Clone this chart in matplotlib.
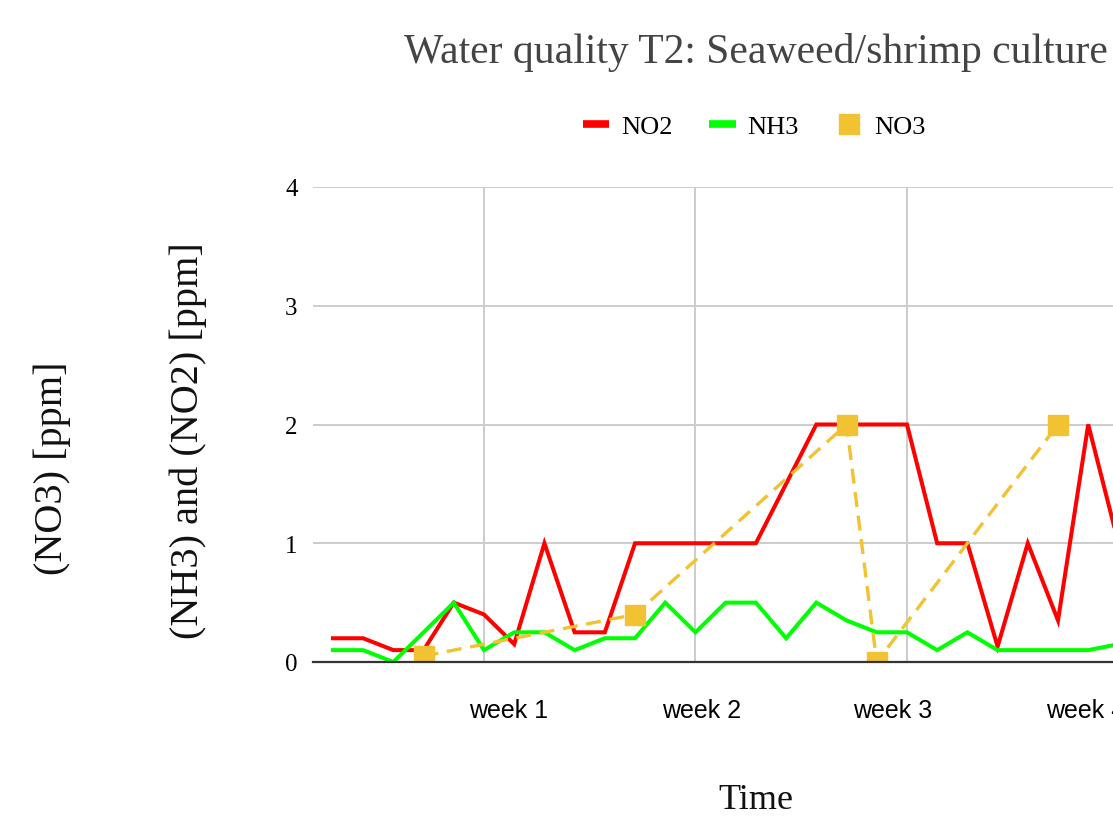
import matplotlib
matplotlib.use("Agg")
import matplotlib.pyplot as plt
from matplotlib.lines import Line2D
import numpy as np

# daily readings (index = day), last point lies just past the visible edge
no2 = [0.2, 0.2, 0.1, 0.1, 0.5, 0.4, 0.15, 1.0, 0.25, 0.25, 1.0, 1.0, 1.0, 1.0,
       1.0, 1.5, 2.0, 2.0, 2.0, 2.0, 1.0, 1.0, 0.13, 1.0, 0.35, 2.0, 1.0]
nh3 = [0.1, 0.1, 0.0, 0.25, 0.5, 0.1, 0.25, 0.25, 0.1, 0.2, 0.2, 0.5, 0.25, 0.5,
       0.5, 0.2, 0.5, 0.35, 0.25, 0.25, 0.1, 0.25, 0.1, 0.1, 0.1, 0.1, 0.15]
no3_days = [3, 10, 17, 18, 24]
no3 = [0.05, 0.4, 2.0, 0.0, 2.0]

week_grid = [5, 12, 19, 26]
week_label_pos = [5.83, 12.19, 18.54, 24.9]
week_labels = ['week 1', 'week 2', 'week 3', 'week 4']
y_ticks = [0, 1, 2, 3, 4]

RED = '#ff0000'
GREEN = '#00ff00'
YELLOW = '#f1c232'
SERIF = 'Liberation Serif'
SANS = 'Liberation Sans'

W, H = 1113, 828
fig = plt.figure(figsize=(W / 100, H / 100), dpi=100)
ax = fig.add_axes([313 / W, (H - 663) / H, (1200 - 313) / W, (663 - 188) / H])

days = np.arange(len(no2))
ax.plot(days, no2, color=RED, lw=2.9, solid_joinstyle='miter', zorder=2)
ax.plot(days, nh3, color=GREEN, lw=2.9, solid_joinstyle='miter', zorder=2.1)
ax.plot(no3_days, no3, color=YELLOW, lw=2.4, linestyle=(0, (4.5, 2.6)),
        marker='s', markersize=14, zorder=2.2)

ax.set_xlim(-0.66, 28.7)
ax.set_ylim(0, 4)

ax.set_yticks(y_ticks)
ax.set_yticklabels([str(t) for t in y_ticks], fontfamily=SERIF, fontsize=18)
ax.set_xticks(week_label_pos)
ax.set_xticklabels(week_labels, fontfamily=SANS, fontsize=18)
ax.set_xticks(week_grid, minor=True)
ax.tick_params(axis='x', which='both', length=0, pad=26)
ax.tick_params(axis='y', length=0, pad=11)

ax.grid(False)
ax.grid(axis='y', which='major', color='#cccccc', lw=1.4)
ax.grid(axis='x', which='minor', color='#cccccc', lw=1.4)
ax.set_axisbelow(True)

for s in ['top', 'right', 'left']:
    ax.spines[s].set_visible(False)
ax.spines['bottom'].set_color('#333333')
ax.spines['bottom'].set_linewidth(1.6)

fig.text(756 / W, 1 - 53 / H, 'Water quality T2: Seaweed/shrimp culture',
         ha='center', va='center', fontfamily=SERIF, fontsize=30, color='#444444')
fig.text(756 / W, 1 - 801 / H, 'Time', ha='center', va='center',
         fontfamily=SERIF, fontsize=26, color='#111111')
fig.text(52 / W, 1 - 468 / H, '(NO3) [ppm]', rotation=90, ha='center', va='center',
         fontfamily=SERIF, fontsize=29, color='#111111')
fig.text(188 / W, 1 - 441 / H, '(NH3) and (NO2) [ppm]', rotation=90, ha='center',
         va='center', fontfamily=SERIF, fontsize=29, color='#111111')

handles = [
    Line2D([], [], color=RED, lw=5.5, solid_capstyle='butt'),
    Line2D([], [], color=GREEN, lw=5.5, solid_capstyle='butt'),
    Line2D([], [], color=YELLOW, marker='s', markersize=14, linestyle='None'),
]
fig.legend(handles, ['NO2', 'NH3', 'NO3'], loc='center',
           bbox_to_anchor=(754 / W, 1 - 127 / H), ncol=3, frameon=False,
           prop={'family': SERIF, 'size': 19}, handlelength=1.0,
           handletextpad=0.45, columnspacing=1.4)

fig.savefig('out.png', dpi=100)
